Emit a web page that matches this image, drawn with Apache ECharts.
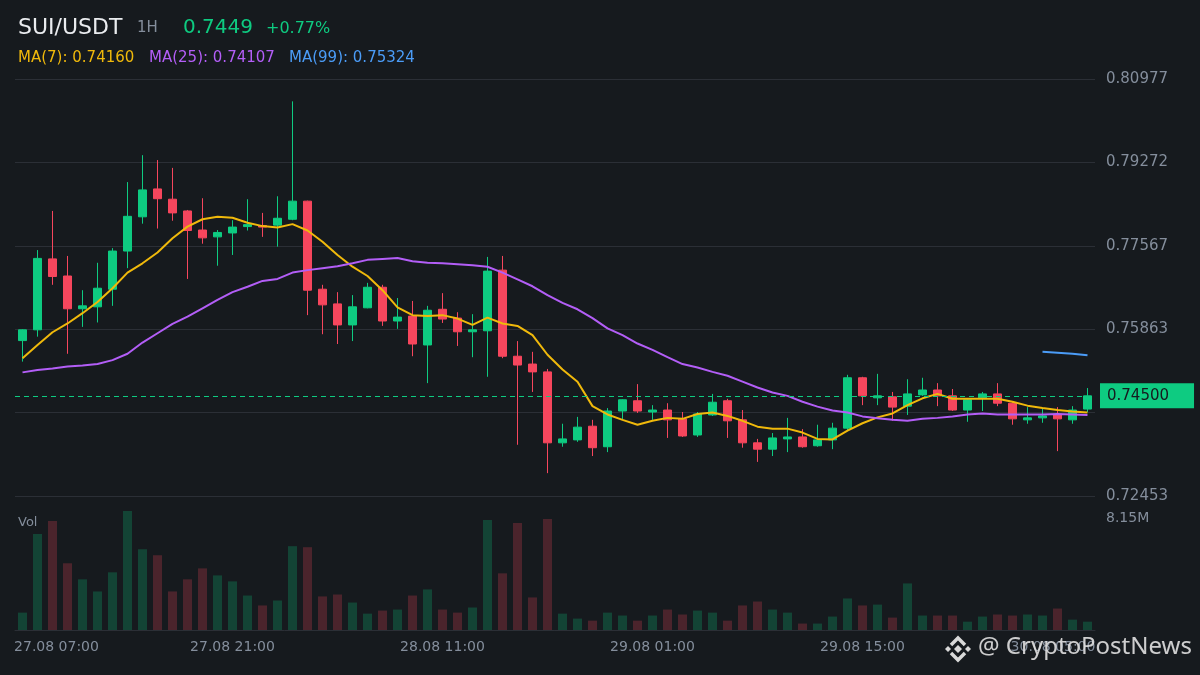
<!DOCTYPE html>
<html>
<head>
<meta charset="utf-8">
<title>SUI/USDT 1H</title>
<script src="https://cdn.jsdelivr.net/npm/echarts@6/dist/echarts.min.js"></script>
<style>
  html, body { margin: 0; padding: 0; background: #161a1e; }
  #chart { width: 1200px; height: 675px; }
</style>
</head>
<body>
<div id="chart"></div>
<script>
// 1H candles, 27.08 07:00 -> 30.08 06:00
var hours = [
  '27.08 07:00','27.08 08:00','27.08 09:00','27.08 10:00','27.08 11:00','27.08 12:00','27.08 13:00','27.08 14:00','27.08 15:00',
  '27.08 16:00','27.08 17:00','27.08 18:00','27.08 19:00','27.08 20:00','27.08 21:00','27.08 22:00','27.08 23:00',
  '28.08 00:00','28.08 01:00','28.08 02:00','28.08 03:00','28.08 04:00','28.08 05:00','28.08 06:00','28.08 07:00',
  '28.08 08:00','28.08 09:00','28.08 10:00','28.08 11:00','28.08 12:00','28.08 13:00','28.08 14:00','28.08 15:00',
  '28.08 16:00','28.08 17:00','28.08 18:00','28.08 19:00','28.08 20:00','28.08 21:00','28.08 22:00','28.08 23:00',
  '29.08 00:00','29.08 01:00','29.08 02:00','29.08 03:00','29.08 04:00','29.08 05:00','29.08 06:00','29.08 07:00',
  '29.08 08:00','29.08 09:00','29.08 10:00','29.08 11:00','29.08 12:00','29.08 13:00','29.08 14:00','29.08 15:00',
  '29.08 16:00','29.08 17:00','29.08 18:00','29.08 19:00','29.08 20:00','29.08 21:00','29.08 22:00','29.08 23:00',
  '30.08 00:00','30.08 01:00','30.08 02:00','30.08 03:00','30.08 04:00','30.08 05:00','30.08 06:00'
];

var opens = [
  0.7563,0.7585,0.7730,0.7695,0.7628,0.7632,0.7668,0.7746,0.7816,0.7873,
  0.7852,0.7828,0.7789,0.7775,0.7783,0.7796,0.7798,0.7799,0.7811,0.7848,
  0.7668,0.7638,0.7595,0.7630,0.7672,0.7603,0.7613,0.7554,0.7627,0.7609,
  0.7581,0.7583,0.7707,0.7531,0.7515,0.7499,0.7354,0.7360,0.7388,0.7346,
  0.7419,0.7440,0.7417,0.7421,0.7403,0.7370,0.7411,0.7440,0.7401,0.7354,
  0.7341,0.7362,0.7366,0.7348,0.7360,0.7384,0.7487,0.7446,0.7448,0.7429,
  0.7452,0.7462,0.7450,0.7421,0.7446,0.7454,0.7435,0.7401,0.7405,0.7411,
  0.7401,0.7423
];
var highs = [
  0.7586,0.7748,0.7828,0.7736,0.7666,0.7722,0.7752,0.7887,0.7942,0.7932,
  0.7916,0.7830,0.7854,0.7789,0.7809,0.7852,0.7824,0.7858,0.8052,0.7849,
  0.7677,0.7662,0.7656,0.7681,0.7677,0.7650,0.7644,0.7634,0.7660,0.7621,
  0.7617,0.7734,0.7736,0.7562,0.7540,0.7505,0.7393,0.7407,0.7401,0.7425,
  0.7443,0.7474,0.7431,0.7435,0.7417,0.7417,0.7454,0.7444,0.7421,0.7362,
  0.7374,0.7405,0.7382,0.7391,0.7395,0.7493,0.7489,0.7495,0.7458,0.7484,
  0.7487,0.7476,0.7464,0.7444,0.7458,0.7476,0.7437,0.7427,0.7425,0.7427,
  0.7429,0.7466
];
var lows = [
  0.7520,0.7571,0.7677,0.7536,0.7591,0.7600,0.7634,0.7711,0.7802,0.7792,
  0.7808,0.7689,0.7761,0.7716,0.7738,0.7788,0.7775,0.7755,0.7809,0.7615,
  0.7576,0.7556,0.7562,0.7629,0.7593,0.7587,0.7531,0.7476,0.7599,0.7552,
  0.7529,0.7489,0.7527,0.7350,0.7458,0.7292,0.7346,0.7356,0.7327,0.7335,
  0.7401,0.7415,0.7401,0.7364,0.7366,0.7366,0.7409,0.7364,0.7344,0.7315,
  0.7327,0.7335,0.7344,0.7346,0.7341,0.7380,0.7431,0.7431,0.7399,0.7411,
  0.7450,0.7429,0.7419,0.7397,0.7419,0.7429,0.7391,0.7393,0.7395,0.7337,
  0.7393,0.7417
];
var closes = [
  0.7585,0.7731,0.7694,0.7628,0.7634,0.7670,0.7746,0.7817,0.7871,0.7853,
  0.7824,0.7788,0.7773,0.7784,0.7795,0.7800,0.7795,0.7813,0.7848,0.7666,
  0.7636,0.7595,0.7632,0.7672,0.7603,0.7611,0.7556,0.7625,0.7607,0.7581,
  0.7585,0.7705,0.7531,0.7513,0.7499,0.7354,0.7362,0.7386,0.7344,0.7419,
  0.7442,0.7419,0.7421,0.7401,0.7368,0.7413,0.7437,0.7399,0.7354,0.7341,
  0.7364,0.7366,0.7346,0.7360,0.7384,0.7487,0.7450,0.7450,0.7427,0.7454,
  0.7462,0.7450,0.7421,0.7442,0.7454,0.7435,0.7403,0.7405,0.7409,0.7403,
  0.7421,0.7450
];
// volume in millions
var volumes = [
  1.19,6.57,7.46,4.57,3.47,2.64,3.95,8.15,5.53,5.12,
  2.64,3.47,4.22,3.74,3.33,2.36,1.68,2.02,5.74,5.67,
  2.30,2.43,1.88,1.12,1.33,1.40,2.36,2.78,1.40,1.19,
  1.54,7.53,3.88,7.32,2.23,7.60,1.12,0.78,0.64,1.19,
  0.99,0.64,0.99,1.40,1.06,1.33,1.19,0.64,1.68,1.95,
  1.40,1.19,0.44,0.44,0.92,2.16,1.68,1.74,0.85,3.19,
  0.99,0.99,0.99,0.57,0.92,1.06,0.99,1.06,0.99,1.47,
  0.71,0.57
];
var ma7 = [
  0.7527,0.7554,0.7580,0.7598,0.7619,0.7642,0.7670,0.7702,0.7721,0.7743,
  0.7772,0.7796,0.7811,0.7816,0.7814,0.7804,0.7797,0.7794,0.7801,0.7788,
  0.7765,0.7738,0.7714,0.7695,0.7666,0.7631,0.7615,0.7613,0.7615,0.7608,
  0.7595,0.7610,0.7598,0.7593,0.7574,0.7534,0.7504,0.7479,0.7429,0.7412,
  0.7401,0.7391,0.7399,0.7405,0.7403,0.7413,0.7416,0.7409,0.7399,0.7387,
  0.7383,0.7383,0.7375,0.7362,0.7361,0.7379,0.7394,0.7406,0.7414,0.7431,
  0.7445,0.7454,0.7444,0.7444,0.7444,0.7444,0.7438,0.7430,0.7425,0.7421,
  0.7418,0.7416
];
var ma25 = [
  0.7498,0.7503,0.7506,0.7510,0.7512,0.7515,0.7523,0.7536,0.7559,0.7578,
  0.7597,0.7612,0.7629,0.7646,0.7662,0.7673,0.7685,0.7689,0.7702,0.7707,
  0.7711,0.7715,0.7721,0.7728,0.7730,0.7732,0.7725,0.7722,0.7721,0.7719,
  0.7717,0.7714,0.7702,0.7688,0.7674,0.7656,0.7640,0.7627,0.7609,0.7588,
  0.7574,0.7557,0.7544,0.7529,0.7515,0.7508,0.7499,0.7491,0.7479,0.7467,
  0.7457,0.7450,0.7438,0.7428,0.7420,0.7416,0.7408,0.7404,0.7401,0.7399,
  0.7403,0.7405,0.7408,0.7412,0.7414,0.7412,0.7412,0.7412,0.7412,0.7413,
  0.7412,0.7411
];
// MA(99) only drawn on the last candles
var ma99 = new Array(68).fill(null).concat([0.7540,0.7538,0.7536,0.7533]);

var priceTicks = { min: 0.72453, max: 0.80977, step: 0.017048 };
var lastPrice = 0.745;
var volMax = 8.15;

var UP = '#0ecb81', DOWN = '#f6465d';
var GRID_LINE = '#2b2f36', MUTED = '#848e9c';
var FONT = 'DejaVu Sans';

var chart = echarts.init(document.getElementById('chart'));

var candles = opens.map(function (o, i) {
  return [o, closes[i], lows[i], highs[i]];
});
var volBars = volumes.map(function (v, i) {
  var up = closes[i] >= opens[i];
  return {
    value: v,
    itemStyle: { color: up ? 'rgba(14,203,129,0.24)' : 'rgba(246,70,93,0.24)' }
  };
});

var option = {
  backgroundColor: '#161a1e',
  animation: false,
  textStyle: { fontFamily: FONT },
  grid: [
    { left: 15, width: 1080, top: 79, height: 417 },
    { left: 15, width: 1080, top: 511, height: 119 }
  ],
  xAxis: [
    {
      type: 'category', gridIndex: 0, data: hours,
      axisLine: { show: false }, axisTick: { show: false },
      axisLabel: { show: false }, splitLine: { show: false }
    },
    {
      type: 'category', gridIndex: 1, data: hours,
      axisLine: { lineStyle: { color: GRID_LINE } },
      axisTick: { show: false },
      splitLine: { show: false },
      axisLabel: {
        color: MUTED, fontSize: 14, fontFamily: FONT, margin: 10,
        interval: function (idx) { return idx % 14 === 0; },
        formatter: function (val, idx) {
          if (idx === 0) return '{a|' + val + '}';
          if (idx === 70) return '{b|' + val + '}';
          return val;
        },
        rich: {
          a: { color: MUTED, fontSize: 14, fontFamily: FONT, padding: [0, 0, 0, 68] },
          b: { color: MUTED, fontSize: 14, fontFamily: FONT, padding: [0, 39, 0, 0] }
        }
      }
    }
  ],
  yAxis: [
    {
      type: 'value', gridIndex: 0, position: 'right',
      min: priceTicks.min, max: priceTicks.max, interval: priceTicks.step,
      axisLine: { show: false }, axisTick: { show: false },
      splitLine: { lineStyle: { color: GRID_LINE, width: 1 } },
      axisLabel: {
        color: MUTED, fontSize: 15, fontFamily: FONT, margin: 11,
        formatter: function (v) {
          // this tick sits under the last-price tag
          if (Math.abs(v - lastPrice) < 0.005) return '';
          return v.toFixed(5);
        }
      }
    },
    {
      type: 'value', gridIndex: 1, position: 'right',
      min: 0, max: volMax, interval: volMax,
      axisLine: { show: false }, axisTick: { show: false },
      splitLine: { show: false },
      axisLabel: {
        color: MUTED, fontSize: 14, fontFamily: FONT, margin: 11,
        verticalAlign: 'top',
        formatter: function (v) { return v === volMax ? volMax.toFixed(2) + 'M' : ''; }
      }
    }
  ],
  series: [
    {
      name: 'SUI/USDT', type: 'candlestick',
      xAxisIndex: 0, yAxisIndex: 0,
      barWidth: 9,
      data: candles,
      itemStyle: {
        color: UP, color0: DOWN,
        borderColor: UP, borderColor0: DOWN, borderWidth: 1
      },
      // last price line + tag (precision defaults to 2, which would round 0.745 away)
      markLine: {
        silent: true,
        precision: 5,
        symbol: ['none', 'none'],
        lineStyle: { color: UP, type: [5, 4], width: 1 },
        label: {
          position: 'end', distance: 5,
          formatter: lastPrice.toFixed(5),
          backgroundColor: UP, color: '#161a1e',
          fontSize: 15, fontFamily: FONT, lineHeight: 17,
          padding: [4, 25, 4, 7]
        },
        data: [{ yAxis: lastPrice }]
      }
    },
    {
      name: 'MA7', type: 'line', xAxisIndex: 0, yAxisIndex: 0,
      data: ma7, symbol: 'none',
      lineStyle: { color: '#f0b90b', width: 2 }
    },
    {
      name: 'MA25', type: 'line', xAxisIndex: 0, yAxisIndex: 0,
      data: ma25, symbol: 'none',
      lineStyle: { color: '#b35ef7', width: 2 }
    },
    {
      name: 'MA99', type: 'line', xAxisIndex: 0, yAxisIndex: 0,
      data: ma99, symbol: 'none',
      lineStyle: { color: '#4b9cf7', width: 2 }
    },
    {
      name: 'Vol', type: 'bar', xAxisIndex: 1, yAxisIndex: 1,
      barWidth: 9,
      data: volBars
    }
  ],
  graphic: [
    { type: 'text', left: 18, top: 17, style: { text: 'SUI/USDT', fill: '#eaecef', font: '22px "DejaVu Sans"' } },
    { type: 'text', left: 137, top: 21, style: { text: '1H', fill: MUTED, font: '15px "DejaVu Sans"' } },
    { type: 'text', left: 183, top: 18, style: { text: '0.7449', fill: UP, font: '20px "DejaVu Sans"' } },
    { type: 'text', left: 266, top: 21, style: { text: '+0.77%', fill: UP, font: '16px "DejaVu Sans"' } },
    { type: 'text', left: 18, top: 51, style: { text: 'MA(7): 0.74160', fill: '#f0b90b', font: '15px "DejaVu Sans"' } },
    { type: 'text', left: 149, top: 51, style: { text: 'MA(25): 0.74107', fill: '#b35ef7', font: '15px "DejaVu Sans"' } },
    { type: 'text', left: 289, top: 51, style: { text: 'MA(99): 0.75324', fill: '#4b9cf7', font: '15px "DejaVu Sans"' } },
    { type: 'text', left: 18, top: 516, style: { text: 'Vol', fill: MUTED, font: '13px "DejaVu Sans"' } },
    // watermark
    {
      type: 'group', x: 958, y: 649, z: 100,
      children: [
        { type: 'polygon', shape: { points: [[0, -4], [4, 0], [0, 4], [-4, 0]] }, style: { fill: '#d9d9d9' } },
        { type: 'polygon', shape: { points: [[-13, 0], [-10, -3], [-7, 0], [-10, 3]] }, style: { fill: '#d9d9d9' } },
        { type: 'polygon', shape: { points: [[13, 0], [10, -3], [7, 0], [10, 3]] }, style: { fill: '#d9d9d9' } },
        { type: 'polyline', shape: { points: [[-7, -4], [0, -11], [7, -4]] }, style: { stroke: '#d9d9d9', lineWidth: 3.5, fill: null } },
        { type: 'polyline', shape: { points: [[-7, 4], [0, 11], [7, 4]] }, style: { stroke: '#d9d9d9', lineWidth: 3.5, fill: null } }
      ]
    },
    {
      type: 'text', left: 978, top: 635, z: 100,
      style: { text: '@ CryptoPostNews', fill: 'rgba(225,225,225,0.9)', font: '24px "Noto Sans"' }
    }
  ]
};

chart.setOption(option);
</script>
</body>
</html>
